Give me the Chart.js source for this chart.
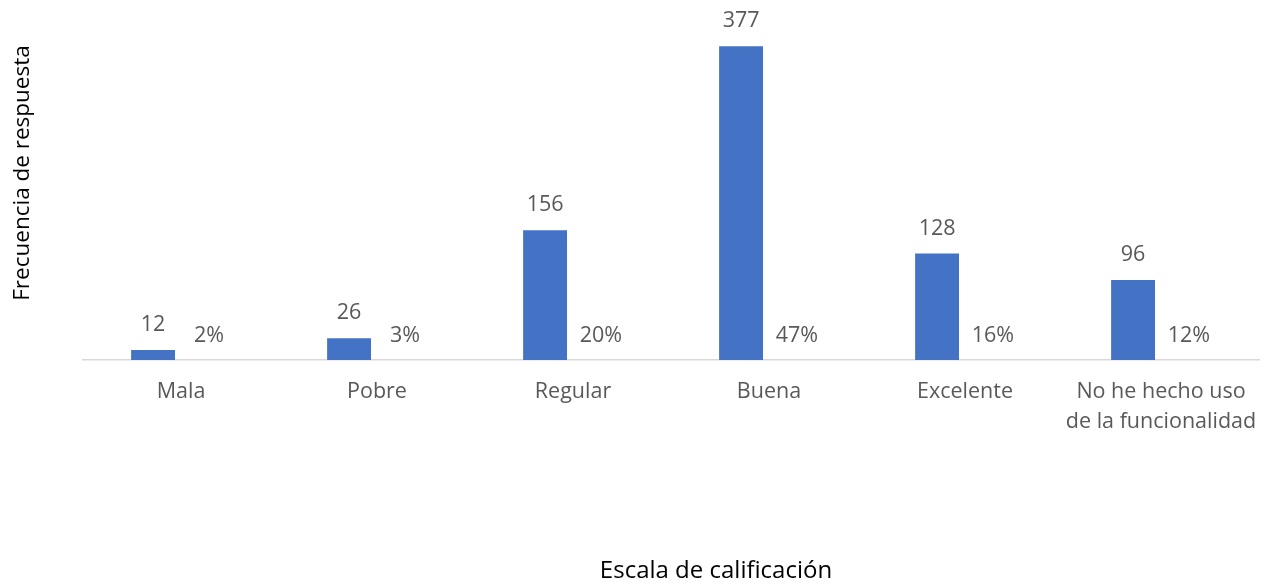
<!DOCTYPE html>
<html><head><meta charset="utf-8">
<script src="https://cdn.jsdelivr.net/npm/chart.js@4/dist/chart.umd.min.js"></script>
<style>html,body{margin:0;padding:0;background:#fff;}#wrap{width:1264px;height:583px;}</style>
</head><body><div id="wrap"><canvas id="c" width="1264" height="583"></canvas></div>
<script>
const categories = [["Mala"],["Pobre"],["Regular"],["Buena"],["Excelente"],["No he hecho uso","de la funcionalidad"]];
const counts = [12, 26, 156, 377, 128, 96];
const percents = [2, 3, 20, 47, 16, 12];
const yTitle = "Frecuencia de respuesta";
const xTitle = "Escala de calificación";

const FONT = "'Open Sans', sans-serif";

const labelPlugin = {
  id: 'labels',
  afterDatasetsDraw(chart) {
    const ctx = chart.ctx;
    ctx.save();
    ctx.font = "21.5px " + FONT;
    ctx.fillStyle = "#595959";
    ctx.textAlign = "center";
    ctx.textBaseline = "middle";
    const m0 = chart.getDatasetMeta(0);
    m0.data.forEach((el, i) => { ctx.fillText(String(counts[i]), el.x, el.y - 25); });
    const m1 = chart.getDatasetMeta(1);
    m1.data.forEach((el, i) => { ctx.fillText(percents[i] + "%", el.x, el.y - 24); });
    // axis titles
    ctx.fillStyle = "#000";
    ctx.font = "24px " + FONT;
    ctx.fillText(xTitle, 716, 571);
    ctx.font = "22.5px " + FONT;
    ctx.translate(23, 173);
    ctx.rotate(-Math.PI / 2);
    ctx.fillText(yTitle, 0, 0);
    ctx.restore();
  }
};

new Chart(document.getElementById('c'), {
  type: 'bar',
  data: {
    labels: categories,
    datasets: [
      { data: counts, backgroundColor: '#4472C4', barPercentage: 0.786, categoryPercentage: 0.57 },
      { data: percents.map(p => p / 100), backgroundColor: 'rgba(0,0,0,0)', barPercentage: 0.786, categoryPercentage: 0.57 }
    ]
  },
  options: {
    responsive: false,
    animation: false,
    layout: { padding: { top: 27, left: 83, right: 5, bottom: 0 } },
    plugins: { legend: { display: false }, tooltip: { enabled: false } },
    scales: {
      y: { display: false, min: 0, max: 400 },
      x: {
        grid: { display: false, drawTicks: false },
        border: { color: '#d9d9d9', width: 1.5 },
        ticks: { color: '#595959', font: { family: FONT, size: 21.5, lineHeight: 1.38 }, padding: 17, maxRotation: 0, autoSkip: false },
        afterFit(s) { s.height = 223; s.paddingLeft = 0; s.paddingRight = 0; }
      }
    }
  },
  plugins: [labelPlugin]
});
</script></body></html>
